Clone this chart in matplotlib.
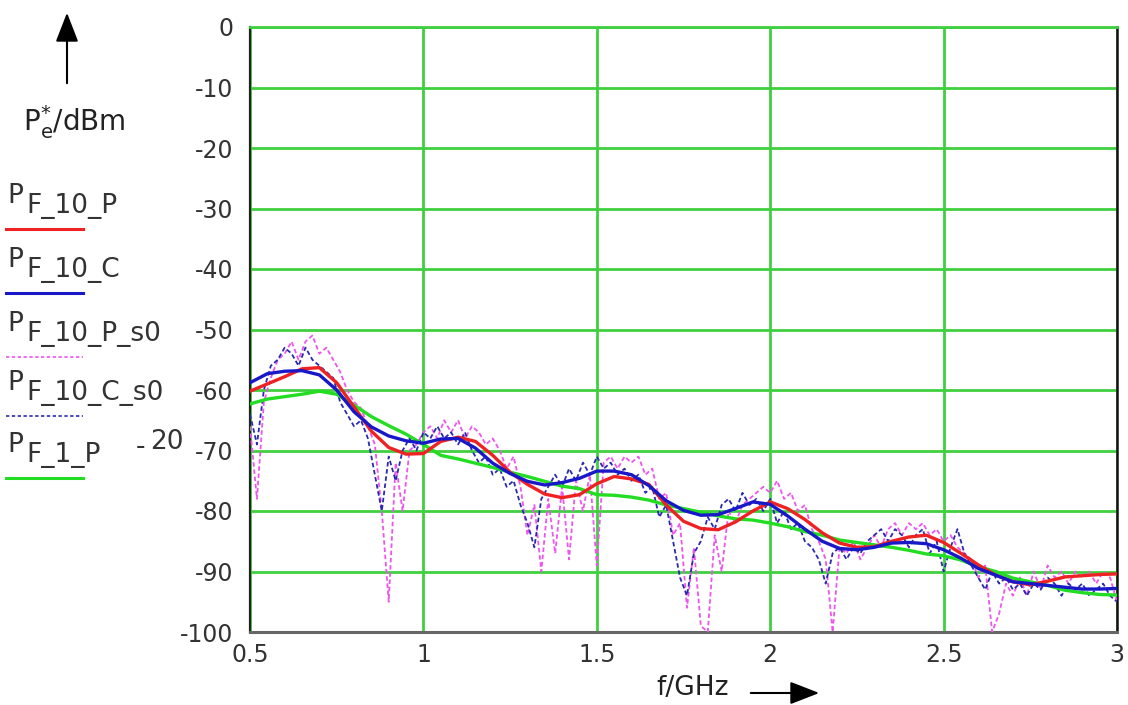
import numpy as np
import matplotlib
matplotlib.use("Agg")
import matplotlib.pyplot as plt

plt.rcParams["font.family"] = ["DejaVu Sans"]

# smooth curves, read every 0.05 GHz
freq = [0.50, 0.55, 0.60, 0.65, 0.70, 0.75, 0.80, 0.85, 0.90, 0.95,
        1.00, 1.05, 1.10, 1.15, 1.20, 1.25, 1.30, 1.35, 1.40, 1.45,
        1.50, 1.55, 1.60, 1.65, 1.70, 1.75, 1.80, 1.85, 1.90, 1.95,
        2.00, 2.05, 2.10, 2.15, 2.20, 2.25, 2.30, 2.35, 2.40, 2.45,
        2.50, 2.55, 2.60, 2.65, 2.70, 2.75, 2.80, 2.85, 2.90, 2.95, 3.00]

p_f10_p = [-60.2, -59.0, -57.8, -56.5, -56.3, -58.8, -62.8, -66.8, -69.5, -70.6,
           -70.5, -68.5, -67.8, -68.5, -70.8, -73.6, -75.6, -77.2, -77.8, -77.3,
           -75.5, -74.3, -74.7, -75.6, -79.0, -81.7, -82.9, -83.1, -81.8, -80.0,
           -78.5, -79.6, -81.4, -83.6, -85.3, -86.0, -85.9, -85.0, -84.3, -84.0,
           -85.2, -87.0, -88.9, -90.6, -91.7, -92.2, -91.6, -90.9, -90.7, -90.5, -90.4]

p_f10_c = [-58.8, -57.3, -56.9, -56.8, -57.5, -60.0, -63.6, -66.1, -67.6, -68.4,
           -68.8, -68.1, -68.0, -69.6, -72.1, -73.8, -75.1, -75.7, -75.3, -74.6,
           -73.4, -73.4, -74.0, -75.8, -78.3, -79.9, -80.7, -80.6, -79.6, -78.5,
           -78.9, -80.8, -83.0, -85.0, -86.2, -86.4, -86.0, -85.3, -85.2, -85.4,
           -86.4, -87.8, -89.5, -90.6, -91.7, -92.0, -92.3, -92.6, -92.9, -92.9, -92.8]

p_f1_p_minus20 = [-62.3, -61.5, -61.1, -60.7, -60.2, -60.7, -62.5, -64.4, -65.9, -67.3,
                  -69.0, -70.8, -71.4, -72.1, -72.8, -73.6, -74.3, -75.1, -75.9, -76.3,
                  -77.3, -77.4, -77.7, -78.2, -79.0, -79.6, -80.2, -80.8, -81.3, -81.5,
                  -82.0, -82.6, -83.4, -84.0, -84.8, -85.2, -85.6, -86.0, -86.5, -87.1,
                  -87.4, -88.1, -89.2, -90.0, -91.1, -91.7, -92.3, -93.1, -93.5, -93.8, -93.9]

# unsmoothed curves, read every 0.02 GHz from 0.5 to 3.0
p_f10_p_s0 = [-66, -78, -62, -58, -55, -54, -52, -55, -52, -51,
              -54, -53, -55, -57, -60, -62, -63, -66, -69, -80,
              -95, -72, -80, -70, -69, -67, -66, -68, -65, -67,
              -65, -68, -66, -67, -69, -68, -70, -73, -71, -76,
              -84, -79, -90, -78, -87, -76, -88, -75, -80, -74,
              -89, -72, -71, -73, -71, -72, -71, -74, -73, -78,
              -77, -84, -82, -96, -86, -99, -100, -84, -90, -80,
              -82, -79, -78, -77, -76, -77, -75, -78, -77, -80,
              -79, -83, -85, -88, -100, -86, -87, -85, -88, -86,
              -84, -86, -83, -82, -84, -82, -83, -82, -84, -83,
              -85, -84, -86, -87, -88, -91, -89, -100, -97, -92,
              -94, -91, -94, -90, -93, -89, -91, -90, -92, -90,
              -91, -90, -92, -90, -91, -95]

p_f10_c_s0 = [-64, -69, -60, -56, -55, -53, -54, -56, -53, -55,
              -56, -57, -58, -62, -64, -66, -65, -68, -74, -80,
              -71, -75, -70, -68, -70, -67, -68, -66, -68, -67,
              -69, -67, -70, -72, -71, -74, -73, -76, -75, -79,
              -82, -86, -78, -76, -74, -76, -73, -75, -72, -74,
              -71, -73, -72, -74, -73, -75, -74, -77, -76, -81,
              -79, -85, -91, -94, -87, -85, -81, -83, -79, -78,
              -80, -77, -79, -78, -80, -78, -82, -80, -83, -82,
              -85, -86, -88, -92, -87, -86, -88, -86, -87, -85,
              -84, -83, -85, -83, -84, -86, -84, -83, -87, -85,
              -90, -86, -83, -87, -89, -91, -93, -90, -92, -91,
              -93, -92, -94, -92, -93, -91, -92, -94, -92, -93,
              -92, -94, -93, -92, -94, -95]

freq_fine = np.linspace(0.5, 3.0, len(p_f10_p_s0))

x_ticks = [0.5, 1, 1.5, 2, 2.5, 3]
x_tick_labels = ["0.5", "1", "1.5", "2", "2.5", "3"]
y_ticks = [0, -10, -20, -30, -40, -50, -60, -70, -80, -90, -100]
y_tick_labels = ["0", "-10", "-20", "-30", "-40", "-50", "-60", "-70", "-80", "-90", "-100"]

W, H = 1128, 705
fig = plt.figure(figsize=(W / 100, H / 100), dpi=100)
fig.patch.set_facecolor("white")
ax = fig.add_axes([250 / W, 1 - 632 / H, 867 / W, 605 / H])

grid_green = "#3fcf3f"
ax.plot(freq_fine, p_f10_p_s0, color="#ee55ee", lw=1.3, ls=(0, (2.5, 1.5)), zorder=3)
ax.plot(freq_fine, p_f10_c_s0, color="#2a2ab0", lw=1.3, ls=(0, (2.5, 1.5)), zorder=3)
ax.plot(freq, p_f1_p_minus20, color="#22dd22", lw=2.4, zorder=4)
ax.plot(freq, p_f10_p, color="#ee2222", lw=2.4, zorder=5)
ax.plot(freq, p_f10_c, color="#1818c8", lw=2.4, zorder=6)

ax.set_xlim(0.5, 3.0)
ax.set_ylim(-100, 0)
ax.set_xticks(x_ticks)
ax.set_xticklabels(x_tick_labels)
ax.set_yticks(y_ticks)
ax.set_yticklabels(y_tick_labels)
ax.tick_params(length=0, labelsize=17, labelcolor="#333333")
ax.tick_params(axis="y", pad=12)
ax.tick_params(axis="x", pad=8)
ax.grid(True, color=grid_green, lw=2, zorder=1)
ax.set_axisbelow(True)

ax.spines["left"].set_color("#222222")
ax.spines["left"].set_linewidth(1.6)
ax.spines["right"].set_color("#111111")
ax.spines["right"].set_linewidth(1.8)
ax.spines["bottom"].set_color("#666666")
ax.spines["bottom"].set_linewidth(2.2)
ax.spines["top"].set_color(grid_green)
ax.spines["top"].set_linewidth(2)

# axis labels with arrows, in figure pixels
def fx(px):
    return px / W

def fy(py):
    return 1 - py / H

fig.text(fx(693), fy(688), "f/GHz", ha="center", va="center", fontsize=19, color="#222222")
fig.add_artist(matplotlib.patches.FancyArrowPatch(
    (fx(748), fy(693)), (fx(822), fy(693)), transform=fig.transFigure,
    arrowstyle="-|>,head_length=0.9,head_width=0.35", color="black", lw=1.5,
    mutation_scale=20))

fig.text(fx(74), fy(122), r"P$_\mathregular{e}^\mathregular{*}$/dBm", ha="center", va="center",
         fontsize=20, color="#222222")
fig.add_artist(matplotlib.patches.FancyArrowPatch(
    (fx(67), fy(86)), (fx(67), fy(10)), transform=fig.transFigure,
    arrowstyle="-|>,head_length=0.9,head_width=0.35", color="black", lw=1.5,
    mutation_scale=20))

# legend on the left, Mathcad style
legend_items = [
    ("F_10_P", "", "#ee2222", "-", 229),
    ("F_10_C", "", "#1818c8", "-", 293),
    ("F_10_P_s0", "", "#ee55ee", (0, (2, 1.5)), 357),
    ("F_10_C_s0", "", "#2a2ab0", (0, (2, 1.5)), 416),
    ("F_1_P", "20", "#22dd22", "-", 478),
]
for sub, extra, color, ls, ly in legend_items:
    fig.text(fx(7), fy(ly - 33), "P", ha="left", va="center", fontsize=19, color="#333333")
    fig.text(fx(26), fy(ly - 23), sub, ha="left", va="center", fontsize=19, color="#333333")
    if extra:
        fig.text(fx(136), fy(ly - 31), "-", ha="left", va="center", fontsize=19, color="#333333")
        fig.text(fx(150), fy(ly - 36), extra, ha="left", va="center", fontsize=19, color="#333333")
    lw = 2.2 if ls == "-" else 1.2
    fig.add_artist(matplotlib.lines.Line2D([fx(6), fx(83)], [fy(ly), fy(ly)], color=color,
                                           lw=lw, ls=ls, transform=fig.transFigure))

fig.savefig("out.png", dpi=100, facecolor="white")
